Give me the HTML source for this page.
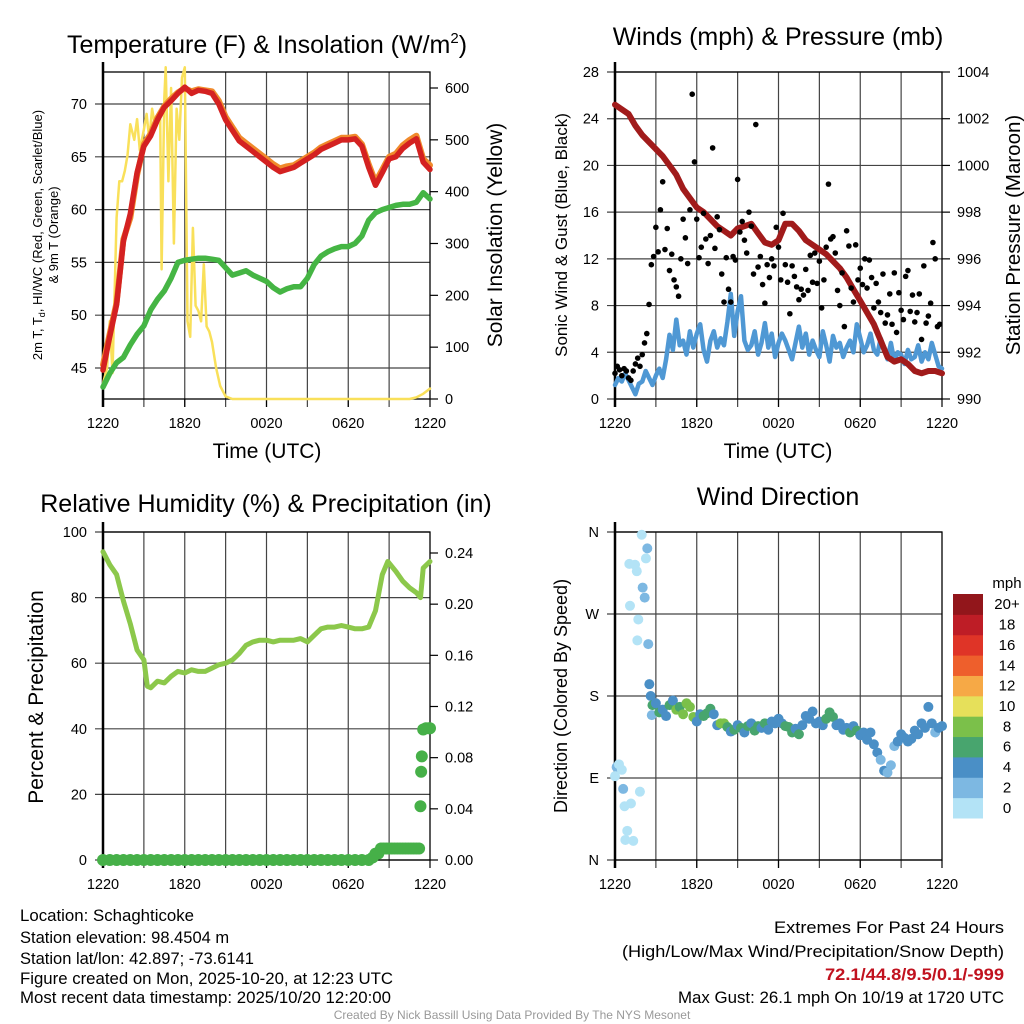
<!DOCTYPE html>
<html><head><meta charset="utf-8">
<style>
html,body{margin:0;padding:0;background:#fff;}
svg{display:block;font-family:"Liberation Sans",Arial,sans-serif;}
</style></head>
<body>
<svg id="fig" width="1024" height="1024" viewBox="0 0 1024 1024" xmlns="http://www.w3.org/2000/svg">
<rect x="0" y="0" width="1024" height="1024" fill="#fff"/>
<text x="267" y="53" font-size="25" text-anchor="middle">Temperature (F) &amp; Insolation (W/m<tspan font-size="15" dy="-10">2</tspan><tspan dy="10">)</tspan></text>
<text x="778" y="45" font-size="25" text-anchor="middle">Winds (mph) &amp; Pressure (mb)</text>
<text x="266" y="512" font-size="25" text-anchor="middle">Relative Humidity (%) &amp; Precipitation (in)</text>
<text x="778" y="505" font-size="25" text-anchor="middle">Wind Direction</text>
<text x="267" y="458" font-size="21" text-anchor="middle">Time (UTC)</text>
<text x="778" y="458" font-size="21" text-anchor="middle">Time (UTC)</text>
<text transform="translate(42,235) rotate(-90)" font-size="13" text-anchor="middle">2m T, T<tspan font-size="9" dy="3">d</tspan><tspan dy="-3">, HI/WC (Red, Green, Scarlet/Blue)</tspan></text>
<text transform="translate(58,235) rotate(-90)" font-size="13" text-anchor="middle">&amp; 9m T (Orange)</text>
<text transform="translate(502,235) rotate(-90)" font-size="21" text-anchor="middle">Solar Insolation (Yellow)</text>
<text transform="translate(567,235) rotate(-90)" font-size="17" text-anchor="middle">Sonic Wind &amp; Gust (Blue, Black)</text>
<text transform="translate(1020,235) rotate(-90)" font-size="20.5" text-anchor="middle">Station Pressure (Maroon)</text>
<text transform="translate(43,697) rotate(-90)" font-size="21" text-anchor="middle">Percent &amp; Precipitation</text>
<text transform="translate(567,696) rotate(-90)" font-size="18" text-anchor="middle">Direction (Colored By Speed)</text>
<g font-size="16.5">
<text x="20" y="921" textLength="174" lengthAdjust="spacingAndGlyphs">Location: Schaghticoke</text>
<text x="20" y="943">Station elevation: 98.4504 m</text>
<text x="20" y="964">Station lat/lon: 42.897; -73.6141</text>
<text x="20" y="984" textLength="373" lengthAdjust="spacingAndGlyphs">Figure created on Mon, 2025-10-20, at 12:23 UTC</text>
<text x="20" y="1003" textLength="371" lengthAdjust="spacingAndGlyphs">Most recent data timestamp: 2025/10/20 12:20:00</text>
</g>
<g font-size="16.5">
<text x="774" y="933" textLength="230" lengthAdjust="spacingAndGlyphs">Extremes For Past 24 Hours</text>
<text x="622" y="957" textLength="382" lengthAdjust="spacingAndGlyphs">(High/Low/Max Wind/Precipitation/Snow Depth)</text>
<text x="825" y="980" textLength="179" lengthAdjust="spacingAndGlyphs" fill="#c1121f" font-weight="bold">72.1/44.8/9.5/0.1/-999</text>
<text x="678" y="1003" textLength="326" lengthAdjust="spacingAndGlyphs">Max Gust: 26.1 mph On 10/19 at 1720 UTC</text>
</g>
<text x="512" y="1019" font-size="12" fill="#999" text-anchor="middle">Created By Nick Bassill Using Data Provided By The NYS Mesonet</text>
<text x="1007" y="588" font-size="15" text-anchor="middle">mph</text>
</svg>
<script>
var xTickLabels = ["1220","1820","0020","0620","1220"];
var halfHours = [0,0.5,1,1.5,2,2.5,3,3.5,4,4.5,5,5.5,6,6.5,7,7.5,8,8.5,9,9.5,10,10.5,11,11.5,12,12.5,13,13.5,14,14.5,15,15.5,16,16.5,17,17.5,18,18.5,19,19.5,20,20.5,21,21.5,22,22.5,23,23.5,24];
var tempRed = [44.8,48,51,57,59.6,63.5,66,67,68.5,69.7,70.3,71,71.6,71,71.3,71.2,71,70,68.5,67.5,66.5,66,65.5,65,64.5,64,63.6,63.8,64,64.4,64.8,65.2,65.7,66,66.3,66.6,66.6,66.7,66,64,62.3,63.5,64.8,65,65.8,66.3,66.7,64.5,63.8];
var temp9m = [45.3,48.3,51.2,57.2,59.2,63.3,66.2,67.2,68.7,69.8,70.5,71.1,71.5,71.2,71.4,71.3,71.2,70.3,68.8,67.8,66.8,66.3,65.8,65.3,64.8,64.3,63.9,64.1,64.2,64.6,65,65.4,65.9,66.2,66.5,66.8,66.8,66.9,66.2,64.3,62.6,63.8,65,65.3,66.1,66.6,67,64.8,64.2];
var dewpoint = [43.2,44.5,45.5,46,47.2,48.2,49,50.5,51.5,52.3,53.5,55,55.2,55.3,55.4,55.4,55.3,55.2,54.5,53.8,54,54.2,53.8,53.5,53.2,52.6,52.2,52.5,52.7,52.7,53.5,54.8,55.6,56,56.3,56.5,56.5,56.8,57.5,59,59.7,60,60.2,60.4,60.5,60.5,60.7,61.6,61];
var solarHours = [0,0.3,0.5,0.7,1,1.2,1.4,1.6,1.8,2,2.3,2.5,2.7,3,3.2,3.4,3.6,3.8,4.2,4.3,4.5,4.6,4.8,5,5.2,5.4,5.6,5.8,6,6.2,6.4,6.6,6.8,7,7.2,7.4,7.6,7.8,8,8.3,8.6,9,9.5,22.5,23,23.5,24];
var solarValues = [30,60,150,50,350,420,420,440,470,530,500,540,480,520,550,500,560,530,540,250,580,640,420,600,300,560,500,620,640,150,120,330,180,170,150,260,140,130,110,60,25,5,0,0,3,10,20];
var pressure = [1002.6,1002.4,1002.2,1001.7,1001.3,1001.0,1000.7,1000.4,1000.0,999.6,999.0,998.6,998.2,998.0,997.7,997.4,997.2,997.0,997.3,997.4,997.5,997.1,996.7,996.6,996.8,997.5,997.5,997.2,996.8,996.6,996.4,996.2,995.9,995.6,995.2,994.7,994.2,993.7,993.2,992.5,991.8,991.6,991.7,991.5,991.2,991.1,991.2,991.2,991.1];
var windQuarterHours = [];
for (var q = 0; q <= 96; q++) { windQuarterHours.push(q / 4); }
var sonicWind = [1.2,1.8,1.5,2.2,1.6,1.0,0.4,1.3,1.5,2.4,1.8,1.2,2.0,2.6,1.8,3.4,5.5,4.2,6.8,4.6,5.0,3.8,5.8,4.4,5.6,6.4,4.2,3.2,5.0,5.8,4.4,5.2,4.6,6.6,9.0,5.4,7.5,8.8,5.0,4.2,4.6,5.8,3.8,4.8,6.5,4.4,5.6,3.6,4.8,5.6,5.0,4.2,3.4,4.8,6.2,4.4,5.6,3.8,5.0,4.2,3.6,5.8,4.6,3.2,5.4,4.4,4.8,3.6,4.4,5.0,4.0,6.4,5.2,4.0,4.6,5.6,4.2,3.8,5.2,4.4,3.4,4.8,3.2,4.0,3.8,3.0,4.2,3.4,3.6,4.6,3.2,4.0,3.4,4.8,3.8,2.8,2.6];
var gustTenMin = [];
for (var g = 0; g < 144; g++) { gustTenMin.push(g / 6); }
var gustValues = [2.2,2.8,2.5,2.0,2.6,2.4,1.8,1.6,2.4,3.0,3.5,2.8,
3.8,4.8,5.6,8.1,11.5,12.2,14.7,12.6,16.2,18.6,12.8,14.6,
11.0,12.4,10.2,9.6,8.8,12.0,15.4,13.8,11.6,16.2,26.1,20.3,
15.4,12.1,13.0,15.9,13.7,11.6,14.0,21.5,12.9,15.6,14.5,10.7,
8.3,12.1,9.4,8.3,12.2,11.9,18.8,14.3,15.2,13.6,12.5,16.0,
14.8,10.7,23.5,11.3,12.2,9.8,8.2,11.5,10.4,12.0,11.4,14.7,
13.0,10.2,15.9,11.5,10.0,7.3,11.4,10.5,9.6,8.5,9.4,8.9,
11.1,9.3,12.3,10.0,12.5,9.9,11.8,7.8,10.2,13.0,18.4,13.7,
13.9,12.5,9.3,8.0,10.8,6.2,14.4,13.1,9.5,8.3,13.2,10.2,
11.2,9.8,12.0,9.5,11.9,10.4,7.8,9.9,8.3,7.4,10.7,6.5,
7.2,9.0,6.4,10.8,5.7,9.1,7.6,6.8,10.5,11.0,7.5,8.9,
6.6,7.4,9.0,5.1,11.4,6.5,7.1,8.2,13.4,12.0,6.2,6.4];
var rhHours = [0,0.5,1,1.5,2,2.5,3,3.25,3.5,4,4.5,5,5.5,6,6.5,7,7.5,8,8.5,9,9.5,10,10.5,11,11.5,12,12.5,13,13.5,14,14.5,15,15.5,16,16.5,17,17.5,18,18.5,19,19.5,20,20.5,20.9,21.5,22,22.5,23,23.3,23.5,24];
var rhValues = [94,90,87,79,72,64,61,53,52.5,54.5,54,56,57.5,57,58,57.5,57.5,58.5,59.5,60,61,63,65.5,66.5,67,67,66.5,67,67,67,67.5,66.5,68.5,70.5,71,71,71.5,71,70.5,70.5,71,76,87,91,88,85,83,81.5,80,89,91];
var precipHours = [0,0.5,1,1.5,2,2.5,3,3.5,4,4.5,5,5.5,6,6.5,7,7.5,8,8.5,9,9.5,10,10.5,11,11.5,12,12.5,13,13.5,14,14.5,15,15.5,16,16.5,17,17.5,18,18.5,19,19.5,19.8,20,20.2,20.4,20.6,20.8,21,21.2,21.4,21.6,21.8,22,22.2,22.4,22.6,22.8,23,23.2,23.3,23.35,23.4,23.5,23.7,23.9,24];
var precipValues = [0,0,0,0,0,0,0,0,0,0,0,0,0,0,0,0,0,0,0,0,0,0,0,0,0,0,0,0,0,0,0,0,0,0,0,0,0,0,0,0,0.002,0.005,0.005,0.009,0.009,0.009,0.009,0.009,0.009,0.009,0.009,0.009,0.009,0.009,0.009,0.009,0.009,0.009,0.042,0.069,0.081,0.102,0.103,0.103,0.103];
var dirHours = [1.05,1.47,1.6,2.27,2.37,1.96,2.03,2.18,1.1,1.71,1.64,2.44,2.52,2.62,2.7,0.12,0.29,0,0.6,0.7,1.17,1.83,0.9,0.76,1.34,0.5,
2.75,3,3.25,3.5,3.75,4,4.25,4.5,4.75,5,5.25,5.5,5.75,6,6.25,6.5,6.75,7,7.25,7.5,7.75,8,8.25,8.5,8.75,9,9.25,9.5,9.75,10,10.25,10.5,10.75,11,11.25,11.5,11.75,12,12.25,12.5,12.75,13,13.25,13.5,13.75,14,14.25,14.5,14.75,15,15.25,15.5,15.75,16,16.25,16.5,16.75,17,17.25,17.5,17.75,18,18.25,18.5,18.75,19,19.25,19.5,19.75,20,20.25,20.5,20.75,21,21.25,21.5,21.75,22,22.25,22.5,22.75,23,23.25,23.5,23.75,24];
var dirDegrees = [325,324,317,331,342,357,299,288,279,264,241,237,193,180,159,102,105,92,78,59,62,75,32,22,21,99,
170,172,162,165,158,170,175,165,168,160,172,168,157,152,160,158,161,166,160,148,150,150,146,141,143,148,145,140,147,150,142,147,145,150,143,152,150,155,150,147,146,140,144,138,148,158,155,163,150,152,148,155,162,157,148,150,143,145,140,147,142,137,140,132,140,127,118,110,98,96,104,125,130,138,134,130,133,142,138,150,145,168,150,140,145,147];
var dirSpeeds = [1,1,1,1,3,1,3,3,1,1,1,3,4,4,2,2,1,1,3,1,1,1,1,1,1,1,
6,4,6,4,4,6,4,8,6,8,8,8,8,4,4,6,6,6,4,4,8,8,6,4,6,4,6,4,6,4,6,6,4,6,4,4,4,4,4,6,6,6,4,6,4,4,4,4,4,4,4,6,6,6,4,4,4,4,6,4,6,4,4,4,4,4,4,2,4,2,2,2,4,4,4,4,4,4,4,4,4,4,4,2,4,4];
var speedBinLabels = ["0","2","4","6","8","10","12","14","16","18","20+"];
var speedBinColors = ["#b3e3f6","#7db8e2","#4a8fc6","#48a56e","#7bc04a","#e6e05a","#f6a946","#ee5f2c","#df3427","#be1d26","#92161b"];
var tempTicks = [45,50,55,60,65,70];
var solarTicks = [0,100,200,300,400,500,600];
var windTicks = [0,4,8,12,16,20,24,28];
var pressTicks = [990,992,994,996,998,1000,1002,1004];
var rhTicks = [0,20,40,60,80,100];
var precipTicks = [0,0.04,0.08,0.12,0.16,0.20,0.24];
var dirTicks = [0,90,180,270,360];
var dirTickLabels = ["N","E","S","W","N"];

var NS = "http://www.w3.org/2000/svg";
var svg = document.getElementById("fig");
function mk(tag, attrs, parent) {
  var e = document.createElementNS(NS, tag);
  for (var k in attrs) e.setAttribute(k, attrs[k]);
  (parent || svg).appendChild(e);
  return e;
}
function panel(name, x0, x1, y0, y1) {
  return {name: name, x0: x0, x1: x1, y0: y0, y1: y1,
    xs: function (h) { return x0 + h / 24 * (x1 - x0); }};
}
function linScale(v0, v1, p0, p1) { return function (v) { return p0 + (v - v0) / (v1 - v0) * (p1 - p0); }; }

var P1 = panel("temperature", 103, 430, 72, 399);
var P2 = panel("winds", 615, 942, 72, 399);
var P3 = panel("humidity", 103, 430, 532, 860);
var P4 = panel("direction", 615, 942, 532, 860);

var yTemp = linScale(45, 70, 368, 104);
var ySolar = linScale(0, 600, 399, 88);
var yWind = linScale(0, 28, 399, 72);
var yPress = linScale(990, 1004, 399, 72);
var yRH = linScale(0, 100, 860, 532);
var yPrecip = linScale(0, 0.24, 860, 553);
var yDir = linScale(0, 360, 860, 532);

function drawFrame(P, leftTicks, leftScale, leftLabels, rightTicks, rightScale, rightLabels, showXLabels) {
  var g = mk("g", {});
  
  
  for (var h = 3; h < 24; h += 3) {
    var vx = P.xs(h);
    var vl = mk("line", {x1: vx, x2: vx, y1: P.y0, y2: P.y1 + 8, stroke: "#444", "stroke-width": 1.2}, g);
    
    
  }
  for (var i = 0; i < leftTicks.length; i++) {
    var yy = leftScale(leftTicks[i]);
    var hl = mk("line", {x1: P.x0 - 8, x2: P.x1, y1: yy, y2: yy, stroke: "#444", "stroke-width": 1.2}, g);
    
    
    var lt = mk("text", {x: P.x0 - 16, y: yy + 5, "font-size": 14.5, "text-anchor": "end"}, g);
    lt.textContent = leftLabels[i];
    
    
  }
  if (rightTicks) {
    for (var j = 0; j < rightTicks.length; j++) {
      var ry = rightScale(rightTicks[j]);
      var rt = mk("line", {x1: P.x1, x2: P.x1 + 8, y1: ry, y2: ry, stroke: "#000", "stroke-width": 1.2}, g);
      
      
      var rl = mk("text", {x: P.x1 + 15, y: ry + 5, "font-size": 14.5}, g);
      rl.textContent = rightLabels[j];
      
      
    }
  }
  for (var k = 0; k < 5; k++) {
    var tx = P.xs(k * 6);
    var tk = mk("line", {x1: tx, x2: tx, y1: P.y1, y2: P.y1 + 8, stroke: "#000", "stroke-width": 1.2}, g);
    
    
    if (showXLabels) {
      var xl = mk("text", {x: tx, y: P.y1 + 29, "font-size": 14.5, "text-anchor": "middle"}, g);
      xl.textContent = xTickLabels[k];
      
      
    }
  }
  var box = mk("rect", {x: P.x0, y: P.y0, width: P.x1 - P.x0, height: P.y1 - P.y0, fill: "none", stroke: "#000", "stroke-width": 1.3}, g);
  
  
  var lax = mk("line", {x1: P.x0, x2: P.x0, y1: P.y0 - 10, y2: P.y1 + 8, stroke: "#000", "stroke-width": 2.5}, g);
  
  
}
function polyline(P, xsArr, ysArr, yScale, color, width, name) {
  var pts = [];
  for (var i = 0; i < xsArr.length; i++) pts.push(P.xs(xsArr[i]).toFixed(1) + "," + yScale(ysArr[i]).toFixed(1));
  var pl = mk("polyline", {points: pts.join(" "), fill: "none", stroke: color, "stroke-width": width, "stroke-linejoin": "round", "stroke-linecap": "round"});
  
  
  return pl;
}
function fmtP(v) { return v.toFixed(2); }

drawFrame(P1, tempTicks, yTemp, tempTicks.map(String), solarTicks, ySolar, solarTicks.map(String), true);
polyline(P1, solarHours, solarValues, ySolar, "#f9e05a", 2.5, "solar-insolation-line");
polyline(P1, halfHours, dewpoint, yTemp, "#45b544", 5.5, "dewpoint-line");
polyline(P1, halfHours, temp9m, yTemp, "#f08a2c", 6, "temperature-9m-line");
polyline(P1, halfHours, tempRed, yTemp, "#d42121", 5.5, "temperature-2m-line");

drawFrame(P2, windTicks, yWind, windTicks.map(String), pressTicks, yPress, pressTicks.map(String), true);
polyline(P2, windQuarterHours, sonicWind, yWind, "#4f98d4", 4.5, "sonic-wind-line");
polyline(P2, halfHours, pressure, yPress, "#a11b1b", 6, "pressure-line");
var gustG = mk("g", {});


for (var gi = 0; gi < gustValues.length; gi++) {
  var gc = mk("circle", {cx: P2.xs(gustTenMin[gi]), cy: yWind(gustValues[gi]), r: 2.8, fill: "#000"}, gustG);
  
  
}

drawFrame(P3, rhTicks, yRH, rhTicks.map(String), precipTicks, yPrecip, precipTicks.map(fmtP), true);
polyline(P3, rhHours, rhValues, yRH, "#8cc84b", 5, "relative-humidity-line");
var prG = mk("g", {});


for (var pi = 0; pi < precipValues.length; pi++) {
  var pc = mk("circle", {cx: P3.xs(precipHours[pi]), cy: yPrecip(precipValues[pi]), r: 6, fill: "#46b048"}, prG);
  
  
}

drawFrame(P4, dirTicks, yDir, dirTickLabels, null, null, null, true);
var dG = mk("g", {});


for (var di = 0; di < dirDegrees.length; di++) {
  var bin = Math.min(10, Math.floor(dirSpeeds[di] / 2));
  var dc = mk("circle", {cx: P4.xs(dirHours[di]), cy: yDir(dirDegrees[di]), r: 5, fill: speedBinColors[bin]}, dG);
  
  
}
var cbG = mk("g", {});


var cbTop = 594, cbBot = 818, cbH = (cbBot - cbTop) / speedBinLabels.length;
for (var ci = 0; ci < speedBinLabels.length; ci++) {
  var yb = cbBot - (ci + 1) * cbH;
  var cr = mk("rect", {x: 953, y: yb, width: 30, height: cbH + 0.5, fill: speedBinColors[ci]}, cbG);
  
  
  var ct = mk("text", {x: 1007, y: yb + cbH / 2 + 5, "font-size": 15, "text-anchor": "middle"}, cbG);
  ct.textContent = speedBinLabels[ci];
  
  
}
</script>
</body></html>
